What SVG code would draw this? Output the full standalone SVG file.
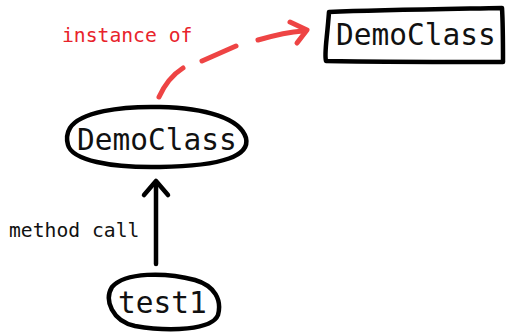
<svg xmlns="http://www.w3.org/2000/svg" width="508" height="333" viewBox="0 0 508 333">
<style>
.t{font-family:"DejaVu Sans Mono",monospace;fill:#111}
.big{font-size:29.5px}
.sm{font-size:19.7px}
.shape{fill:none;stroke:#000;stroke-width:4.5;stroke-linecap:round;stroke-linejoin:round}
.red{fill:none;stroke:#ee4444;stroke-width:5;stroke-linecap:round;stroke-linejoin:round}
</style>
<rect width="508" height="333" fill="#fff"/>
<g id="connectors">
<path class="red" d="M159,97 C164,86 172,75 183,68" />
<path class="red" d="M202,61 L236,46" />
<path class="red" d="M258,40 C272,36 288,32 303,31" />
<path class="red" d="M290,22 L307,30 L297,43" />
<path class="shape" d="M156,264 L156,182" />
<path class="shape" d="M144,195 L156,181 L168,195" />
<text class="t sm" x="9" y="237" fill="#222">method call</text>
<text class="t sm" x="62" y="42" style="fill:#e8232b">instance of</text>
</g>
<g id="democlass-type">
<path class="shape" d="M329,12 C380,10 450,9 502,8 C503,25 503,45 503,62 C450,62 380,62 326,61 C324,54 327,40 329,12 Z"/>
<text class="t big" x="336" y="45">DemoClass</text>
</g>
<g id="democlass-instance">
<path class="shape" d="M70,128 C80,112 120,106 160,107 C205,108 240,118 246,138 C250,155 225,166 160,167 C110,168 72,160 68,145 C66,138 67,133 70,128 Z"/>
<text class="t big" x="77" y="150">DemoClass</text>
</g>
<g id="test1">
<path class="shape" d="M112,287 C125,272 165,272 195,280 C215,286 222,300 218,315 C212,330 170,332 135,326 C112,321 104,300 112,287 Z"/>
<text class="t big" x="118" y="313">test1</text>
</g>
</svg>
